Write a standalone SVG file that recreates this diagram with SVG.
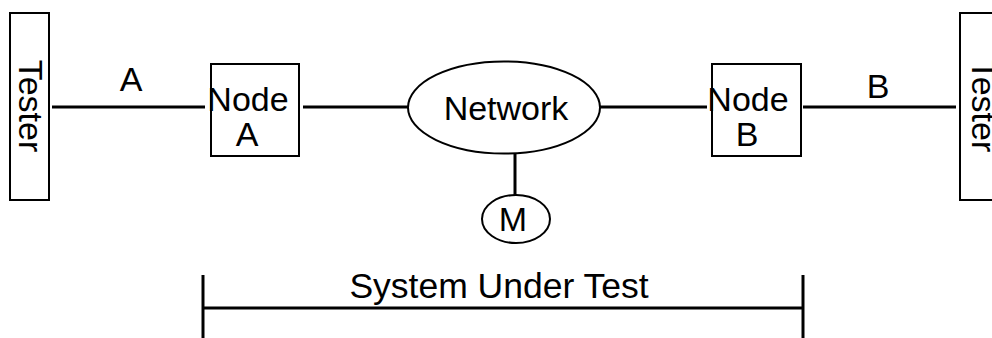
<svg xmlns="http://www.w3.org/2000/svg" width="992" height="338" viewBox="0 0 992 338">
  <style>
    .box { fill: #ffffff; stroke: #000000; stroke-width: 2; }
    .wire { fill: none; stroke: #000000; stroke-width: 3; }
    .lbl { font-family: "Liberation Sans", Arial, sans-serif; font-size: 34px; fill: #000000; }
  </style>
  <rect width="992" height="338" fill="#ffffff"/>

  <!-- links between the tester, nodes, network and monitor -->
  <g id="connectors">
    <line class="wire" x1="52" y1="107" x2="205" y2="107"/>
    <line class="wire" x1="303" y1="107" x2="408" y2="107"/>
    <line class="wire" x1="600" y1="107" x2="707" y2="107"/>
    <line class="wire" x1="803" y1="107" x2="956" y2="107"/>
    <line class="wire" x1="515" y1="153" x2="515" y2="195"/>
    <text class="lbl" x="131" y="91" text-anchor="middle">A</text>
    <text class="lbl" x="878" y="98" text-anchor="middle">B</text>
  </g>

  <g id="tester-left">
    <rect class="box" x="10" y="13" width="39" height="187"/>
    <text class="lbl" transform="translate(19,106) rotate(90)" text-anchor="middle">Tester</text>
  </g>

  <g id="tester-right">
    <rect class="box" x="960" y="13" width="40" height="187"/>
    <text class="lbl" transform="translate(972,106) rotate(90)" text-anchor="middle">Tester</text>
  </g>

  <g id="node-a">
    <rect class="box" x="211" y="64" width="88" height="92"/>
    <text class="lbl" x="248" y="111" text-anchor="middle">Node</text>
    <text class="lbl" x="247" y="146" text-anchor="middle">A</text>
  </g>

  <g id="node-b">
    <rect class="box" x="712" y="64" width="89" height="92"/>
    <text class="lbl" x="748" y="111" text-anchor="middle">Node</text>
    <text class="lbl" x="747" y="146" text-anchor="middle">B</text>
  </g>

  <g id="network">
    <ellipse class="box" cx="504" cy="107.5" rx="96" ry="46"/>
    <text class="lbl" x="506" y="120" text-anchor="middle">Network</text>
  </g>

  <g id="monitor">
    <ellipse class="box" cx="516" cy="219" rx="34" ry="24"/>
    <text class="lbl" x="513" y="231" text-anchor="middle">M</text>
  </g>

  <!-- span marker for the system under test -->
  <g id="system-under-test">
    <line class="wire" x1="203" y1="275" x2="203" y2="338"/>
    <line class="wire" x1="803" y1="275" x2="803" y2="338"/>
    <line class="wire" x1="203" y1="308" x2="803" y2="308"/>
    <text class="lbl" x="499" y="298" text-anchor="middle" style="font-size:35.5px">System Under Test</text>
  </g>
</svg>
